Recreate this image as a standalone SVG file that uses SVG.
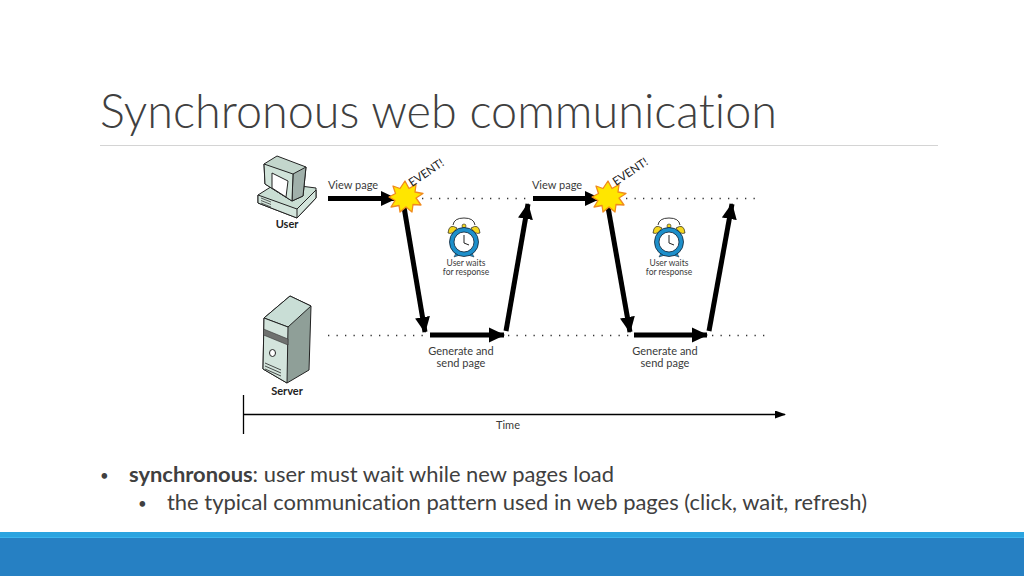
<svg xmlns="http://www.w3.org/2000/svg" width="1024" height="576" viewBox="0 0 1024 576">
<style>
text{font-family:Lato,"Open Sans","Liberation Sans",sans-serif;fill:#3a3a3a;font-variant-ligatures:none}
.lb{font-size:11px;text-anchor:middle}
.sm{font-size:8.5px;text-anchor:middle}
.bd{font-size:11px;font-weight:700;text-anchor:middle;fill:#222}
.ev{font-size:11.500px;fill:#222}
.body{font-size:21px;fill:#404040}
.bl{font-size:15px;fill:#404040}
.dot{fill:none;stroke:#333;stroke-width:1.3;stroke-dasharray:1.3 7.2}
.thick{fill:none;stroke:#000;stroke-width:5}
.out{stroke:#222;stroke-width:1;stroke-linejoin:round}
</style>
<defs>
<marker id="ah" markerUnits="userSpaceOnUse" markerWidth="18" markerHeight="18" refX="15" refY="8" orient="auto"><path d="M0 0.500L16 8L0 15.500Z" fill="#000"/></marker>
<marker id="tm" markerUnits="userSpaceOnUse" markerWidth="12" markerHeight="10" refX="10" refY="4" orient="auto"><path d="M0 0L11 4L0 8Z" fill="#000"/></marker>
<g id="burst"><polygon points="0,-16 4,-8.5 11,-12.500 10,-5 18,-3.500 11,1 16,8 8,7.500 7,15 1,10 -5,15 -6,8.500 -14,10 -10,3.500 -16,0 -9.500,-3.500 -12,-11 -5,-8.500" fill="#ffe600" stroke="#f08a1d" stroke-width="1.3" stroke-linejoin="round"/></g>
<g id="clock">
<path d="M-11 -17Q-10 -24 0 -24Q10 -24 11 -17" fill="none" stroke="#222" stroke-width=".9"/>
<path d="M-8 11L-10 15L-4 13Z M8 11L10 15L4 13Z" fill="#1d8fca" stroke="#123" stroke-width=".5"/>
<path d="M-7 -14Q-15 -19 -16 -9Q-11 -7 -7 -14Z M7 -14Q15 -19 16 -9Q11 -7 7 -14Z" fill="#f4d71f" stroke="#222" stroke-width=".7"/>
<circle cy="-16" r="2" fill="#f4d71f" stroke="#222" stroke-width=".6"/>
<circle r="14.500" fill="#1d8fca" stroke="#123" stroke-width=".8"/>
<circle r="10" fill="#fff" stroke="#123" stroke-width=".8"/>
<path d="M0 -7V1L5 3" fill="none" stroke="#222" stroke-width="1"/>
</g>
</defs>
<rect width="1024" height="576" fill="#fff"/>
<text x="100" y="128" style="font-size:47px;font-weight:300;fill:#404040" textLength="677" lengthAdjust="spacingAndGlyphs">Synchronous web communication</text>
<line x1="100" y1="145.500" x2="938" y2="145.500" stroke="#d4d4d4" stroke-width="1.200"/>

<g id="connectors">
<path class="dot" d="M422 198.500H530"/>
<path class="dot" d="M626 198.500H756"/>
<path class="dot" d="M328 335.500H428"/>
<path class="dot" d="M508 335.500H632"/>
<path class="dot" d="M712 335.500H768"/>
<path class="thick" d="M328 198.500H396" marker-end="url(#ah)"/>
<path class="thick" d="M533 198.500H600" marker-end="url(#ah)"/>
<path class="thick" d="M404 207L425 332" marker-end="url(#ah)"/>
<path class="thick" d="M506 331L528 204" marker-end="url(#ah)"/>
<path class="thick" d="M608 207L630 332" marker-end="url(#ah)"/>
<path class="thick" d="M709 331L732 204" marker-end="url(#ah)"/>
<path class="thick" d="M430 335H504" marker-end="url(#ah)"/>
<path class="thick" d="M634 335H707" marker-end="url(#ah)"/>
<path d="M244 414.500H785" fill="none" stroke="#000" stroke-width="1.300" marker-end="url(#tm)"/>
<path d="M243.500 395V434" fill="none" stroke="#000" stroke-width="1.300"/>
</g>

<g id="user">
<path class="out" d="M258 195L277 183L316 188V198L297 218L258 203Z" fill="#c9ded3"/>
<path class="out" d="M258 195L297 209L316 190V198L297 218L258 203Z" fill="#d3e5dc"/>
<path d="M297 209V218" stroke="#222"/>
<path class="out" d="M264 164L277 156L306 167L303 196L292 201L265 184Z" fill="#c3d6cc"/>
<path class="out" d="M293 174L306 167L303 196L292 201Z" fill="#a0b0aa"/>
<path class="out" d="M264 164L293 174L292 201L265 184Z" fill="#d0e3d9"/>
<path class="out" d="M272 173L288 181L286 197L272 188Z" fill="#fff"/>
<path d="M261 198L271 202M261 200.500L271 204.500M261 203L271 207" stroke="#222" stroke-width=".7"/>
<text class="bd" x="287" y="228">User</text>
</g>

<g id="server">
<path class="out" d="M264 318L290 296L311 306L309 370L287 383L263 369Z" fill="#8f9f98"/>
<path class="out" d="M264 318L290 296L311 306L288 327Z" fill="#c9ded6"/>
<path class="out" d="M264 318L288 327L287 383L263 369Z" fill="#d3e4dc"/>
<path d="M263.500 329L288 339V345L263.500 335Z" fill="#6f716f" stroke="#333" stroke-width=".6"/>
<ellipse cx="272.500" cy="353" rx="3" ry="3.500" fill="#fff" stroke="#222" stroke-width="1"/>
<path d="M265 366L281 373M265 369L281 376M265 363L281 370" stroke="#222" stroke-width=".8"/>
<text class="bd" x="287" y="395">Server</text>
</g>

<g id="event1">
<use href="#burst" x="405" y="197"/>
<text class="ev" transform="translate(412 187) rotate(-34)">EVENT!</text>
</g>
<g id="event2">
<use href="#burst" x="608" y="197"/>
<text class="ev" transform="translate(616 186) rotate(-34)">EVENT!</text>
</g>

<g id="wait1">
<use href="#clock" x="464" y="242"/>
<text class="sm" x="466" y="266">User waits</text>
<text class="sm" x="466" y="275">for response</text>
</g>
<g id="wait2">
<use href="#clock" x="669" y="242"/>
<text class="sm" x="669" y="266">User waits</text>
<text class="sm" x="669" y="275">for response</text>
</g>

<g id="labels">
<text class="lb" x="353" y="189">View page</text>
<text class="lb" x="557" y="189">View page</text>
<text class="lb" x="461" y="355">Generate and</text>
<text class="lb" x="461" y="367">send page</text>
<text class="lb" x="665" y="355">Generate and</text>
<text class="lb" x="665" y="367">send page</text>
<text class="lb" x="508" y="429">Time</text>
</g>

<g id="bullets">
<text class="bl" x="100" y="481">•</text>
<text class="body" x="129" y="482" textLength="485" lengthAdjust="spacingAndGlyphs"><tspan font-weight="700">synchronous</tspan>: user must wait while new pages load</text>
<text class="bl" x="138" y="509">•</text>
<text class="body" x="167" y="510" textLength="700" lengthAdjust="spacingAndGlyphs">the typical communication pattern used in web pages (click, wait, refresh)</text>
</g>

<g id="footer">
<rect y="532" width="1024" height="44" fill="#2680c3"/>
<rect y="532" width="1024" height="5" fill="#2ba4e0"/>
<rect y="537" width="1024" height="1" fill="#3ab4ee"/>
</g>
</svg>
